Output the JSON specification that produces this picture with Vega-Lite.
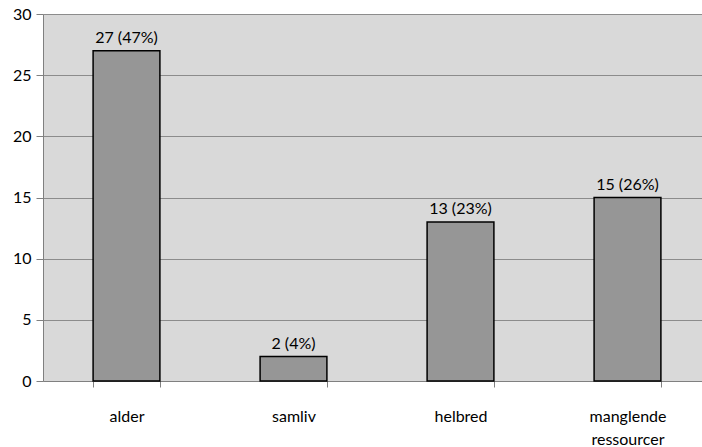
{
  "$schema": "https://vega.github.io/schema/vega-lite/v6.json",
  "autosize": {"type": "none"},
  "padding": {"left": 43, "top": 14, "right": 0, "bottom": 66},
  "width": 668,
  "height": 367,
  "background": "white",
  "config": {
    "view": {"fill": "#d9d9d9", "stroke": null},
    "font": "Lato"
  },
  "data": {
    "values": [
      {"kategori": "alder", "antal": 27, "tekst": "27 (47%)"},
      {"kategori": "samliv", "antal": 2, "tekst": "2 (4%)"},
      {"kategori": "helbred", "antal": 13, "tekst": "13 (23%)"},
      {"kategori": "manglende ressourcer", "antal": 15, "tekst": "15 (26%)"}
    ]
  },
  "encoding": {
    "x": {
      "field": "kategori",
      "type": "nominal",
      "sort": null,
      "scale": {"paddingInner": 0.6, "paddingOuter": 0.3},
      "axis": {
        "title": null,
        "labelAngle": 0,
        "labelFont": "Lato",
        "labelFontSize": 16,
        "labelColor": "#000000",
        "labelPadding": 21,
        "labelLineHeight": 23,
        "labelExpr": "datum.label == 'manglende ressourcer' ? ['manglende', 'ressourcer'] : datum.label",
        "tickBand": "extent",
        "tickSize": 6,
        "tickColor": "#808080",
        "domainColor": "#808080",
        "grid": false
      }
    },
    "y": {
      "field": "antal",
      "type": "quantitative",
      "scale": {"domain": [0, 30], "nice": false},
      "axis": {
        "title": null,
        "values": [0, 5, 10, 15, 20, 25, 30],
        "labelFont": "Lato",
        "labelFontSize": 16,
        "labelColor": "#000000",
        "labelPadding": 5,
        "tickSize": 7,
        "tickColor": "#808080",
        "domainColor": "#808080",
        "grid": true,
        "gridColor": "#8c8c8c",
        "gridWidth": 1,
        "gridOpacity": 1
      }
    }
  },
  "layer": [
    {
      "mark": {"type": "bar", "fill": "#969696", "stroke": "#000000", "strokeWidth": 1.5}
    },
    {
      "mark": {"type": "text", "baseline": "bottom", "dy": -5, "fontSize": 16, "font": "Lato", "color": "#000000"},
      "encoding": {"text": {"field": "tekst"}}
    }
  ]
}
